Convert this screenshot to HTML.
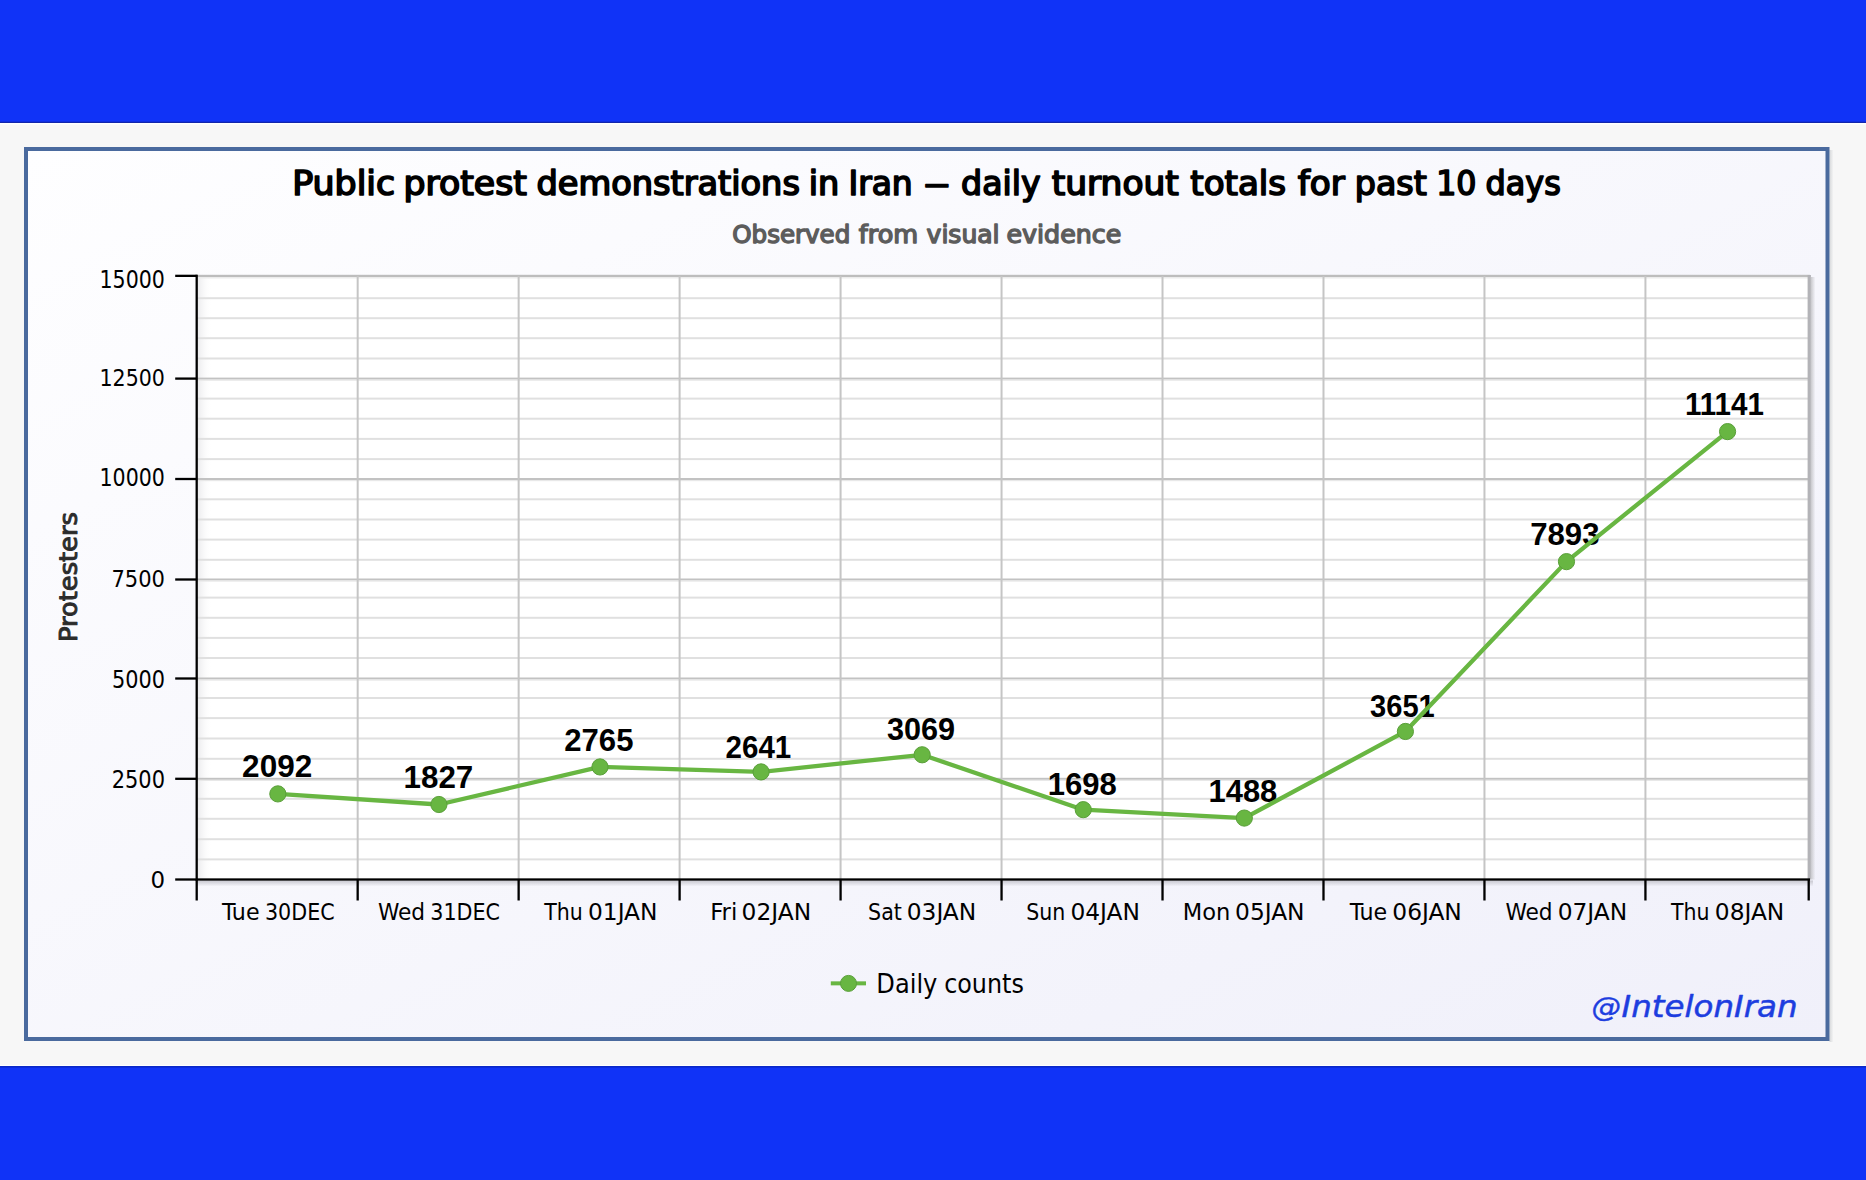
<!DOCTYPE html>
<html><head><meta charset="utf-8"><title>Public protest demonstrations in Iran</title>
<style>html,body{margin:0;padding:0;background:#f7f7f7;overflow:hidden;width:1866px;height:1180px;}svg{display:block;}</style>
</head><body>
<svg width="1866" height="1180" viewBox="0 0 1866 1180">
<defs>
<linearGradient id="pbg" x1="0" y1="0" x2="1" y2="1">
  <stop offset="0" stop-color="#fefeff"/>
  <stop offset="1" stop-color="#f0f0fa"/>
</linearGradient>
<linearGradient id="lsh" x1="0" y1="0" x2="1" y2="0">
  <stop offset="0" stop-color="#ececee"/>
  <stop offset="1" stop-color="#ffffff" stop-opacity="0"/>
</linearGradient>
<linearGradient id="bsh" x1="0" y1="0" x2="0" y2="1">
  <stop offset="0" stop-color="#c8c8d0"/>
  <stop offset="1" stop-color="#c8c8d0" stop-opacity="0"/>
</linearGradient>
<linearGradient id="osh" x1="0" y1="0" x2="1" y2="0">
  <stop offset="0" stop-color="#d6d8da"/>
  <stop offset="1" stop-color="#f7f7f7"/>
</linearGradient>
<linearGradient id="rsh" x1="0" y1="0" x2="1" y2="0">
  <stop offset="0" stop-color="#c8c8cc"/>
  <stop offset="1" stop-color="#c8c8cc" stop-opacity="0"/>
</linearGradient>
</defs>
<rect x="0" y="0" width="1866" height="1180" fill="#f7f7f7"/>
<rect x="0" y="0" width="1866" height="122" fill="#1033f7"/>
<rect x="0" y="121.7" width="1866" height="1.3" fill="#1226ac"/>
<rect x="0" y="123" width="1866" height="1.5" fill="#ffffff"/>
<rect x="0" y="1065" width="1866" height="1.2" fill="#ffffff"/>
<rect x="0" y="1066" width="1866" height="114" fill="#1033f7"/>
<rect x="0" y="1066" width="1866" height="1.6" fill="#0a28c8"/>
<rect x="1829.5" y="150" width="4" height="892" fill="url(#osh)"/>
<rect x="26" y="149" width="1801.5" height="890" fill="url(#pbg)" stroke="#4a6a9e" stroke-width="4"/>
<rect x="197.0" y="276.0" width="1612.0" height="603.5" fill="#ffffff"/>
<rect x="198.0" y="276.0" width="14" height="603.5" fill="url(#lsh)"/>
<rect x="197.0" y="858.40" width="1612.0" height="2" fill="#e0e0e0"/>
<rect x="197.0" y="838.20" width="1612.0" height="2" fill="#e0e0e0"/>
<rect x="197.0" y="817.80" width="1612.0" height="2" fill="#e0e0e0"/>
<rect x="197.0" y="797.80" width="1612.0" height="2" fill="#e0e0e0"/>
<rect x="197.0" y="777.80" width="1612.0" height="2" fill="#c2c2c2"/>
<rect x="197.0" y="779.80" width="1612.0" height="1.2" fill="#e8e8e8"/>
<rect x="197.0" y="757.80" width="1612.0" height="2" fill="#e0e0e0"/>
<rect x="197.0" y="737.50" width="1612.0" height="2" fill="#e0e0e0"/>
<rect x="197.0" y="717.10" width="1612.0" height="2" fill="#e0e0e0"/>
<rect x="197.0" y="697.00" width="1612.0" height="2" fill="#e0e0e0"/>
<rect x="197.0" y="677.50" width="1612.0" height="2" fill="#c2c2c2"/>
<rect x="197.0" y="679.50" width="1612.0" height="1.2" fill="#e8e8e8"/>
<rect x="197.0" y="657.00" width="1612.0" height="2" fill="#e0e0e0"/>
<rect x="197.0" y="636.90" width="1612.0" height="2" fill="#e0e0e0"/>
<rect x="197.0" y="616.80" width="1612.0" height="2" fill="#e0e0e0"/>
<rect x="197.0" y="596.60" width="1612.0" height="2" fill="#e0e0e0"/>
<rect x="197.0" y="578.50" width="1612.0" height="2" fill="#c2c2c2"/>
<rect x="197.0" y="580.50" width="1612.0" height="1.2" fill="#e8e8e8"/>
<rect x="197.0" y="558.80" width="1612.0" height="2" fill="#e0e0e0"/>
<rect x="197.0" y="538.60" width="1612.0" height="2" fill="#e0e0e0"/>
<rect x="197.0" y="518.50" width="1612.0" height="2" fill="#e0e0e0"/>
<rect x="197.0" y="498.30" width="1612.0" height="2" fill="#e0e0e0"/>
<rect x="197.0" y="478.00" width="1612.0" height="2" fill="#c2c2c2"/>
<rect x="197.0" y="480.00" width="1612.0" height="1.2" fill="#e8e8e8"/>
<rect x="197.0" y="458.10" width="1612.0" height="2" fill="#e0e0e0"/>
<rect x="197.0" y="437.90" width="1612.0" height="2" fill="#e0e0e0"/>
<rect x="197.0" y="417.70" width="1612.0" height="2" fill="#e0e0e0"/>
<rect x="197.0" y="397.60" width="1612.0" height="2" fill="#e0e0e0"/>
<rect x="197.0" y="377.60" width="1612.0" height="2" fill="#c2c2c2"/>
<rect x="197.0" y="379.60" width="1612.0" height="1.2" fill="#e8e8e8"/>
<rect x="197.0" y="357.50" width="1612.0" height="2" fill="#e0e0e0"/>
<rect x="197.0" y="337.20" width="1612.0" height="2" fill="#e0e0e0"/>
<rect x="197.0" y="317.20" width="1612.0" height="2" fill="#e0e0e0"/>
<rect x="197.0" y="297.20" width="1612.0" height="2" fill="#e0e0e0"/>
<rect x="197.0" y="274.8" width="1613.0" height="2.2" fill="#bdbdbd"/>
<rect x="197.0" y="277" width="1612.0" height="1.5" fill="#ececec"/>
<rect x="356.67" y="276.0" width="2" height="603.5" fill="#c5c5c5"/>
<rect x="517.64" y="276.0" width="2" height="603.5" fill="#c5c5c5"/>
<rect x="678.61" y="276.0" width="2" height="603.5" fill="#c5c5c5"/>
<rect x="839.58" y="276.0" width="2" height="603.5" fill="#c5c5c5"/>
<rect x="1000.55" y="276.0" width="2" height="603.5" fill="#c5c5c5"/>
<rect x="1161.52" y="276.0" width="2" height="603.5" fill="#c5c5c5"/>
<rect x="1322.49" y="276.0" width="2" height="603.5" fill="#c5c5c5"/>
<rect x="1483.46" y="276.0" width="2" height="603.5" fill="#c5c5c5"/>
<rect x="1644.43" y="276.0" width="2" height="603.5" fill="#c5c5c5"/>
<rect x="1807.6" y="275" width="3.3" height="604.5" fill="#b3b3b7"/>
<rect x="1810.9" y="277" width="4.5" height="602.5" fill="url(#rsh)"/>
<rect x="197.0" y="880.5" width="1616.0" height="6" fill="url(#bsh)"/>
<rect x="195.55" y="274.7" width="2.3" height="606.0" fill="#000"/>
<rect x="175.2" y="878.35" width="1634.8" height="2.3" fill="#000"/>
<rect x="175.2" y="777.65" width="21.5" height="2.3" fill="#000"/>
<rect x="175.2" y="677.35" width="21.5" height="2.3" fill="#000"/>
<rect x="175.2" y="578.35" width="21.5" height="2.3" fill="#000"/>
<rect x="175.2" y="477.85" width="21.5" height="2.3" fill="#000"/>
<rect x="175.2" y="377.45" width="21.5" height="2.3" fill="#000"/>
<rect x="175.2" y="274.7" width="21.5" height="2.3" fill="#000"/>
<rect x="195.55" y="879" width="2.3" height="21.5" fill="#000"/>
<rect x="356.52" y="879" width="2.3" height="21.5" fill="#000"/>
<rect x="517.49" y="879" width="2.3" height="21.5" fill="#000"/>
<rect x="678.46" y="879" width="2.3" height="21.5" fill="#000"/>
<rect x="839.43" y="879" width="2.3" height="21.5" fill="#000"/>
<rect x="1000.40" y="879" width="2.3" height="21.5" fill="#000"/>
<rect x="1161.37" y="879" width="2.3" height="21.5" fill="#000"/>
<rect x="1322.34" y="879" width="2.3" height="21.5" fill="#000"/>
<rect x="1483.31" y="879" width="2.3" height="21.5" fill="#000"/>
<rect x="1644.28" y="879" width="2.3" height="21.5" fill="#000"/>
<rect x="1807.55" y="879" width="2.3" height="21.5" fill="#000"/>
<text x="242.10" y="776.59" font-family='"Liberation Sans", Arial, sans-serif' font-size="30.99" font-weight="bold" font-style="normal" textLength="70.16" lengthAdjust="spacingAndGlyphs" fill="#000">2092</text>
<text x="403.56" y="787.89" font-family='"Liberation Sans", Arial, sans-serif' font-size="31.27" font-weight="bold" font-style="normal" textLength="69.74" lengthAdjust="spacingAndGlyphs" fill="#000">1827</text>
<text x="564.31" y="750.59" font-family='"Liberation Sans", Arial, sans-serif' font-size="31.13" font-weight="bold" font-style="normal" textLength="69.16" lengthAdjust="spacingAndGlyphs" fill="#000">2765</text>
<text x="725.57" y="757.69" font-family='"Liberation Sans", Arial, sans-serif' font-size="31.27" font-weight="bold" font-style="normal" textLength="65.66" lengthAdjust="spacingAndGlyphs" fill="#000">2641</text>
<text x="887.03" y="739.68" font-family='"Liberation Sans", Arial, sans-serif' font-size="31.69" font-weight="bold" font-style="normal" textLength="68.13" lengthAdjust="spacingAndGlyphs" fill="#000">3069</text>
<text x="1047.78" y="795.18" font-family='"Liberation Sans", Arial, sans-serif' font-size="31.69" font-weight="bold" font-style="normal" textLength="69.04" lengthAdjust="spacingAndGlyphs" fill="#000">1698</text>
<text x="1208.49" y="802.38" font-family='"Liberation Sans", Arial, sans-serif' font-size="31.55" font-weight="bold" font-style="normal" textLength="68.83" lengthAdjust="spacingAndGlyphs" fill="#000">1488</text>
<text x="1370.07" y="716.99" font-family='"Liberation Sans", Arial, sans-serif' font-size="31.27" font-weight="bold" font-style="normal" textLength="64.64" lengthAdjust="spacingAndGlyphs" fill="#000">3651</text>
<text x="1530.20" y="545.19" font-family='"Liberation Sans", Arial, sans-serif' font-size="31.27" font-weight="bold" font-style="normal" textLength="69.28" lengthAdjust="spacingAndGlyphs" fill="#000">7893</text>
<text x="1684.98" y="415.30" font-family='"Liberation Sans", Arial, sans-serif' font-size="32.17" font-weight="bold" font-style="normal" textLength="78.98" lengthAdjust="spacingAndGlyphs" fill="#000">11141</text>
<polyline points="277.84,793.89 438.92,804.50 600.00,766.95 761.08,771.91 922.16,754.78 1083.24,809.67 1244.32,818.07 1405.40,731.47 1566.48,561.64 1727.56,431.60" fill="none" stroke="#68b642" stroke-width="4.3" stroke-linejoin="round" stroke-linecap="round"/>
<circle cx="277.84" cy="793.89" r="8.1" fill="#68b642" stroke="#5a9f3a" stroke-width="1"/>
<circle cx="438.92" cy="804.50" r="8.1" fill="#68b642" stroke="#5a9f3a" stroke-width="1"/>
<circle cx="600.00" cy="766.95" r="8.1" fill="#68b642" stroke="#5a9f3a" stroke-width="1"/>
<circle cx="761.08" cy="771.91" r="8.1" fill="#68b642" stroke="#5a9f3a" stroke-width="1"/>
<circle cx="922.16" cy="754.78" r="8.1" fill="#68b642" stroke="#5a9f3a" stroke-width="1"/>
<circle cx="1083.24" cy="809.67" r="8.1" fill="#68b642" stroke="#5a9f3a" stroke-width="1"/>
<circle cx="1244.32" cy="818.07" r="8.1" fill="#68b642" stroke="#5a9f3a" stroke-width="1"/>
<circle cx="1405.40" cy="731.47" r="8.1" fill="#68b642" stroke="#5a9f3a" stroke-width="1"/>
<circle cx="1566.48" cy="561.64" r="8.1" fill="#68b642" stroke="#5a9f3a" stroke-width="1"/>
<circle cx="1727.56" cy="431.60" r="8.1" fill="#68b642" stroke="#5a9f3a" stroke-width="1"/>
<text x="99.52" y="287.94" font-family='"DejaVu Sans Condensed", "DejaVu Sans", sans-serif' font-size="23.97" font-weight="normal" font-style="normal" textLength="65.37" lengthAdjust="spacingAndGlyphs" fill="#000">15000</text>
<text x="99.52" y="385.64" font-family='"DejaVu Sans Condensed", "DejaVu Sans", sans-serif' font-size="23.84" font-weight="normal" font-style="normal" textLength="65.37" lengthAdjust="spacingAndGlyphs" fill="#000">12500</text>
<text x="99.52" y="486.44" font-family='"DejaVu Sans Condensed", "DejaVu Sans", sans-serif' font-size="23.97" font-weight="normal" font-style="normal" textLength="65.37" lengthAdjust="spacingAndGlyphs" fill="#000">10000</text>
<text x="111.45" y="586.65" font-family='"DejaVu Sans Condensed", "DejaVu Sans", sans-serif' font-size="23.58" font-weight="normal" font-style="normal" textLength="53.54" lengthAdjust="spacingAndGlyphs" fill="#000">7500</text>
<text x="111.98" y="687.64" font-family='"DejaVu Sans Condensed", "DejaVu Sans", sans-serif' font-size="23.97" font-weight="normal" font-style="normal" textLength="52.99" lengthAdjust="spacingAndGlyphs" fill="#000">5000</text>
<text x="111.69" y="788.13" font-family='"DejaVu Sans Condensed", "DejaVu Sans", sans-serif' font-size="24.37" font-weight="normal" font-style="normal" textLength="53.29" lengthAdjust="spacingAndGlyphs" fill="#000">2500</text>
<text x="150.47" y="888.45" font-family='"DejaVu Sans Condensed", "DejaVu Sans", sans-serif' font-size="23.31" font-weight="normal" font-style="normal" textLength="14.59" lengthAdjust="spacingAndGlyphs" fill="#000">0</text>
<text x="222.06" y="920.10" font-family='"DejaVu Sans Condensed", "DejaVu Sans", sans-serif' font-size="23.70" font-weight="normal" font-style="normal" textLength="37.53" lengthAdjust="spacingAndGlyphs" fill="#000">Tue</text>
<text x="264.92" y="920.10" font-family='"DejaVu Sans Condensed", "DejaVu Sans", sans-serif' font-size="23.70" font-weight="normal" font-style="normal" textLength="69.73" lengthAdjust="spacingAndGlyphs" fill="#000">30DEC</text>
<text x="377.91" y="920.10" font-family='"DejaVu Sans Condensed", "DejaVu Sans", sans-serif' font-size="23.70" font-weight="normal" font-style="normal" textLength="47.14" lengthAdjust="spacingAndGlyphs" fill="#000">Wed</text>
<text x="430.29" y="920.10" font-family='"DejaVu Sans Condensed", "DejaVu Sans", sans-serif' font-size="23.70" font-weight="normal" font-style="normal" textLength="69.72" lengthAdjust="spacingAndGlyphs" fill="#000">31DEC</text>
<text x="544.28" y="920.10" font-family='"DejaVu Sans Condensed", "DejaVu Sans", sans-serif' font-size="23.70" font-weight="normal" font-style="normal" textLength="38.54" lengthAdjust="spacingAndGlyphs" fill="#000">Thu</text>
<text x="588.03" y="920.10" font-family='"DejaVu Sans Condensed", "DejaVu Sans", sans-serif' font-size="23.70" font-weight="normal" font-style="normal" textLength="69.47" lengthAdjust="spacingAndGlyphs" fill="#000">01JAN</text>
<text x="710.31" y="920.10" font-family='"DejaVu Sans Condensed", "DejaVu Sans", sans-serif' font-size="23.70" font-weight="normal" font-style="normal" textLength="26.94" lengthAdjust="spacingAndGlyphs" fill="#000">Fri</text>
<text x="741.64" y="920.10" font-family='"DejaVu Sans Condensed", "DejaVu Sans", sans-serif' font-size="23.70" font-weight="normal" font-style="normal" textLength="69.50" lengthAdjust="spacingAndGlyphs" fill="#000">02JAN</text>
<text x="868.08" y="920.10" font-family='"DejaVu Sans Condensed", "DejaVu Sans", sans-serif' font-size="23.70" font-weight="normal" font-style="normal" textLength="33.82" lengthAdjust="spacingAndGlyphs" fill="#000">Sat</text>
<text x="906.73" y="920.10" font-family='"DejaVu Sans Condensed", "DejaVu Sans", sans-serif' font-size="23.70" font-weight="normal" font-style="normal" textLength="69.49" lengthAdjust="spacingAndGlyphs" fill="#000">03JAN</text>
<text x="1026.35" y="920.10" font-family='"DejaVu Sans Condensed", "DejaVu Sans", sans-serif' font-size="23.70" font-weight="normal" font-style="normal" textLength="39.04" lengthAdjust="spacingAndGlyphs" fill="#000">Sun</text>
<text x="1070.40" y="920.10" font-family='"DejaVu Sans Condensed", "DejaVu Sans", sans-serif' font-size="23.70" font-weight="normal" font-style="normal" textLength="69.50" lengthAdjust="spacingAndGlyphs" fill="#000">04JAN</text>
<text x="1182.73" y="920.10" font-family='"DejaVu Sans Condensed", "DejaVu Sans", sans-serif' font-size="23.70" font-weight="normal" font-style="normal" textLength="47.58" lengthAdjust="spacingAndGlyphs" fill="#000">Mon</text>
<text x="1235.11" y="920.10" font-family='"DejaVu Sans Condensed", "DejaVu Sans", sans-serif' font-size="23.70" font-weight="normal" font-style="normal" textLength="69.45" lengthAdjust="spacingAndGlyphs" fill="#000">05JAN</text>
<text x="1349.65" y="920.10" font-family='"DejaVu Sans Condensed", "DejaVu Sans", sans-serif' font-size="23.70" font-weight="normal" font-style="normal" textLength="37.53" lengthAdjust="spacingAndGlyphs" fill="#000">Tue</text>
<text x="1392.34" y="920.10" font-family='"DejaVu Sans Condensed", "DejaVu Sans", sans-serif' font-size="23.70" font-weight="normal" font-style="normal" textLength="69.50" lengthAdjust="spacingAndGlyphs" fill="#000">06JAN</text>
<text x="1505.51" y="920.10" font-family='"DejaVu Sans Condensed", "DejaVu Sans", sans-serif' font-size="23.70" font-weight="normal" font-style="normal" textLength="47.14" lengthAdjust="spacingAndGlyphs" fill="#000">Wed</text>
<text x="1557.71" y="920.10" font-family='"DejaVu Sans Condensed", "DejaVu Sans", sans-serif' font-size="23.70" font-weight="normal" font-style="normal" textLength="69.49" lengthAdjust="spacingAndGlyphs" fill="#000">07JAN</text>
<text x="1671.07" y="920.10" font-family='"DejaVu Sans Condensed", "DejaVu Sans", sans-serif' font-size="23.70" font-weight="normal" font-style="normal" textLength="38.54" lengthAdjust="spacingAndGlyphs" fill="#000">Thu</text>
<text x="1714.82" y="920.10" font-family='"DejaVu Sans Condensed", "DejaVu Sans", sans-serif' font-size="23.70" font-weight="normal" font-style="normal" textLength="69.47" lengthAdjust="spacingAndGlyphs" fill="#000">08JAN</text>
<text x="292.19" y="195.03" font-family='"DejaVu Sans Condensed", "DejaVu Sans", sans-serif' font-size="33.36" font-weight="normal" font-style="normal" textLength="102.94" lengthAdjust="spacingAndGlyphs" fill="#000" stroke="#000" stroke-width="1.55" stroke-linejoin="round">Public</text>
<text x="403.55" y="195.03" font-family='"DejaVu Sans Condensed", "DejaVu Sans", sans-serif' font-size="33.36" font-weight="normal" font-style="normal" textLength="123.26" lengthAdjust="spacingAndGlyphs" fill="#000" stroke="#000" stroke-width="1.55" stroke-linejoin="round">protest</text>
<text x="536.53" y="195.03" font-family='"DejaVu Sans Condensed", "DejaVu Sans", sans-serif' font-size="33.36" font-weight="normal" font-style="normal" textLength="263.36" lengthAdjust="spacingAndGlyphs" fill="#000" stroke="#000" stroke-width="1.55" stroke-linejoin="round">demonstrations</text>
<text x="808.76" y="195.03" font-family='"DejaVu Sans Condensed", "DejaVu Sans", sans-serif' font-size="33.36" font-weight="normal" font-style="normal" textLength="30.55" lengthAdjust="spacingAndGlyphs" fill="#000" stroke="#000" stroke-width="1.55" stroke-linejoin="round">in</text>
<text x="848.45" y="195.03" font-family='"DejaVu Sans Condensed", "DejaVu Sans", sans-serif' font-size="33.36" font-weight="normal" font-style="normal" textLength="64.27" lengthAdjust="spacingAndGlyphs" fill="#000" stroke="#000" stroke-width="1.55" stroke-linejoin="round">Iran</text>
<text x="924.44" y="195.03" font-family='"DejaVu Sans Condensed", "DejaVu Sans", sans-serif' font-size="33.36" font-weight="normal" font-style="normal" textLength="24.72" lengthAdjust="spacingAndGlyphs" fill="#000" stroke="#000" stroke-width="1.55" stroke-linejoin="round">—</text>
<text x="961.13" y="195.03" font-family='"DejaVu Sans Condensed", "DejaVu Sans", sans-serif' font-size="33.36" font-weight="normal" font-style="normal" textLength="79.47" lengthAdjust="spacingAndGlyphs" fill="#000" stroke="#000" stroke-width="1.55" stroke-linejoin="round">daily</text>
<text x="1051.83" y="195.03" font-family='"DejaVu Sans Condensed", "DejaVu Sans", sans-serif' font-size="33.36" font-weight="normal" font-style="normal" textLength="126.92" lengthAdjust="spacingAndGlyphs" fill="#000" stroke="#000" stroke-width="1.55" stroke-linejoin="round">turnout</text>
<text x="1190.34" y="195.03" font-family='"DejaVu Sans Condensed", "DejaVu Sans", sans-serif' font-size="33.36" font-weight="normal" font-style="normal" textLength="95.68" lengthAdjust="spacingAndGlyphs" fill="#000" stroke="#000" stroke-width="1.55" stroke-linejoin="round">totals</text>
<text x="1297.73" y="195.03" font-family='"DejaVu Sans Condensed", "DejaVu Sans", sans-serif' font-size="33.36" font-weight="normal" font-style="normal" textLength="47.08" lengthAdjust="spacingAndGlyphs" fill="#000" stroke="#000" stroke-width="1.55" stroke-linejoin="round">for</text>
<text x="1354.84" y="195.03" font-family='"DejaVu Sans Condensed", "DejaVu Sans", sans-serif' font-size="33.36" font-weight="normal" font-style="normal" textLength="71.96" lengthAdjust="spacingAndGlyphs" fill="#000" stroke="#000" stroke-width="1.55" stroke-linejoin="round">past</text>
<text x="1436.20" y="195.03" font-family='"DejaVu Sans Condensed", "DejaVu Sans", sans-serif' font-size="33.36" font-weight="normal" font-style="normal" textLength="40.23" lengthAdjust="spacingAndGlyphs" fill="#000" stroke="#000" stroke-width="1.55" stroke-linejoin="round">10</text>
<text x="1485.58" y="195.03" font-family='"DejaVu Sans Condensed", "DejaVu Sans", sans-serif' font-size="33.36" font-weight="normal" font-style="normal" textLength="75.19" lengthAdjust="spacingAndGlyphs" fill="#000" stroke="#000" stroke-width="1.55" stroke-linejoin="round">days</text>
<text x="732.29" y="242.69" font-family='"DejaVu Sans Condensed", "DejaVu Sans", sans-serif' font-size="24.24" font-weight="normal" font-style="normal" textLength="118.01" lengthAdjust="spacingAndGlyphs" fill="#5c5c5c" stroke="#5c5c5c" stroke-width="1.30" stroke-linejoin="round">Observed</text>
<text x="858.88" y="242.69" font-family='"DejaVu Sans Condensed", "DejaVu Sans", sans-serif' font-size="24.24" font-weight="normal" font-style="normal" textLength="59.32" lengthAdjust="spacingAndGlyphs" fill="#5c5c5c" stroke="#5c5c5c" stroke-width="1.30" stroke-linejoin="round">from</text>
<text x="926.62" y="242.69" font-family='"DejaVu Sans Condensed", "DejaVu Sans", sans-serif' font-size="24.24" font-weight="normal" font-style="normal" textLength="72.93" lengthAdjust="spacingAndGlyphs" fill="#5c5c5c" stroke="#5c5c5c" stroke-width="1.30" stroke-linejoin="round">visual</text>
<text x="1006.54" y="242.69" font-family='"DejaVu Sans Condensed", "DejaVu Sans", sans-serif' font-size="24.24" font-weight="normal" font-style="normal" textLength="114.70" lengthAdjust="spacingAndGlyphs" fill="#5c5c5c" stroke="#5c5c5c" stroke-width="1.30" stroke-linejoin="round">evidence</text>
<g transform="translate(77.3,639.8) rotate(-90)"><text x="-2.12" y="-0.45" font-family='"DejaVu Sans Condensed", "DejaVu Sans", sans-serif' font-size="24.79" font-weight="normal" font-style="normal" textLength="129.79" lengthAdjust="spacingAndGlyphs" fill="#2b2b2b" stroke="#2b2b2b" stroke-width="0.90" stroke-linejoin="round">Protesters</text></g>
<rect x="830.8" y="981.35" width="35.2" height="4" fill="#68b642"/>
<circle cx="848.5" cy="983.4" r="8.0" fill="#68b642" stroke="#5a9f3a" stroke-width="1"/>
<text x="876.39" y="992.60" font-family='"DejaVu Sans Condensed", "DejaVu Sans", sans-serif' font-size="26.44" font-weight="normal" font-style="normal" textLength="61.02" lengthAdjust="spacingAndGlyphs" fill="#000">Daily</text>
<text x="944.18" y="992.60" font-family='"DejaVu Sans Condensed", "DejaVu Sans", sans-serif' font-size="26.44" font-weight="normal" font-style="normal" textLength="79.63" lengthAdjust="spacingAndGlyphs" fill="#000">counts</text>
<text x="1591.44" y="1015.81" font-family='"DejaVu Sans", sans-serif' font-size="25.83" font-weight="normal" font-style="oblique" textLength="29.33" lengthAdjust="spacingAndGlyphs" fill="#1d3ddf" stroke="#1d3ddf" stroke-width="0.40" stroke-linejoin="round">@</text>
<text x="1621.64" y="1017.35" font-family='"DejaVu Sans", sans-serif' font-size="29.86" font-weight="normal" font-style="oblique" textLength="176.00" lengthAdjust="spacingAndGlyphs" fill="#1d3ddf" stroke="#1d3ddf" stroke-width="0.50" stroke-linejoin="round">IntelonIran</text>
</svg>
</body></html>
